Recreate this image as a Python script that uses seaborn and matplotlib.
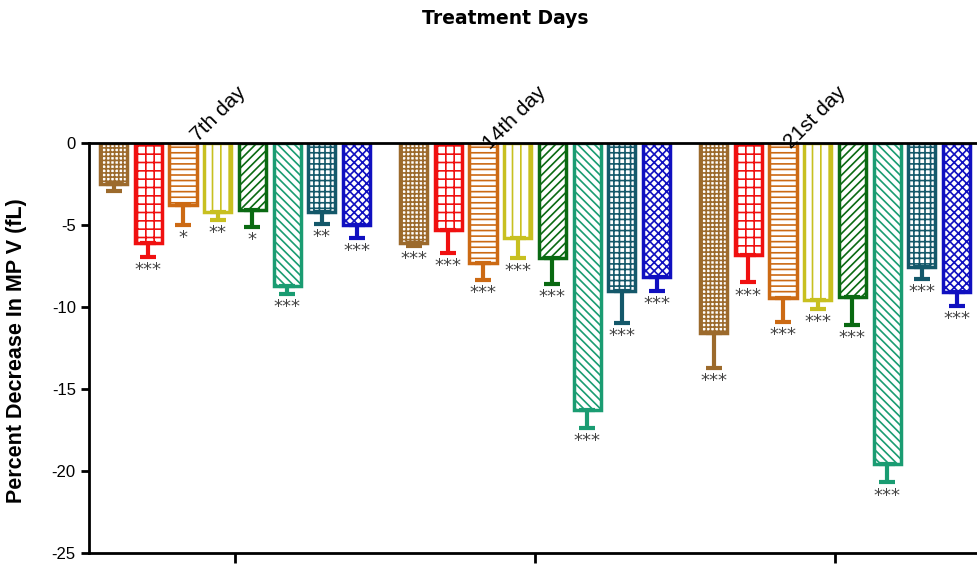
import numpy as np
import pandas as pd
import seaborn as sns
import matplotlib.pyplot as plt

days = ["7th day", "14th day", "21st day"]
groups = ["G1", "G2", "G3", "G4", "G5", "G6", "G7", "G8"]

# mean percent decrease per group, one list per day
mean_7 = [-2.5, -6.1, -3.8, -4.2, -4.1, -8.7, -4.2, -5.0]
mean_14 = [-6.1, -5.3, -7.3, -5.8, -7.0, -16.3, -9.0, -8.2]
mean_21 = [-11.6, -6.85, -9.45, -9.6, -9.4, -19.6, -7.55, -9.1]

# error (drawn downward only)
err_7 = [0.45, 0.85, 1.2, 0.5, 1.0, 0.5, 0.75, 0.8]
err_14 = [0.15, 1.4, 1.05, 1.2, 1.6, 1.1, 2.0, 0.8]
err_21 = [2.1, 1.65, 1.45, 0.5, 1.7, 1.1, 0.75, 0.85]

stars_7 = ["", "***", "*", "**", "*", "***", "**", "***"]
stars_14 = ["***"] * 8
stars_21 = ["***"] * 8

colors = ["#9C6A2C", "#F01010", "#CC6A14", "#C8C020", "#0A6A12", "#1A9C72", "#14586A", "#1010C0"]
hatches = ["++++", "++", "---", "||", "////", "\\\\\\\\", "+++", "xxxx"]

means = [mean_7, mean_14, mean_21]
errs = [err_7, err_14, err_21]
stars = [stars_7, stars_14, stars_21]

df = pd.DataFrame({
    "day": np.repeat(days, len(groups)),
    "group": groups * len(days),
    "value": mean_7 + mean_14 + mean_21,
})

sns.set_style("ticks")
plt.rcParams["font.family"] = ["Liberation Sans", "DejaVu Sans"]
plt.rcParams["hatch.linewidth"] = 1.2
plt.rcParams["axes.unicode_minus"] = False
for key in ["text.color", "axes.labelcolor", "xtick.color", "ytick.color"]:
    plt.rcParams[key] = "black"

fig = plt.figure(figsize=(9.77, 5.65), dpi=100)
ax = fig.add_axes([89 / 977, 12 / 565, 888 / 977, 410 / 565])

sns.barplot(data=df, x="day", y="value", hue="group", order=days, hue_order=groups,
            palette=colors, width=0.926, gap=0.22, errorbar=None, legend=False, ax=ax)

bar_conts = list(ax.containers)
for i, cont in enumerate(bar_conts):
    for j, bar in enumerate(cont.patches):
        bar.set_facecolor("white")
        bar.set_edgecolor(colors[i])
        bar.set_hatch(hatches[i])
        bar.set_linewidth(2.5)
        x = bar.get_x() + bar.get_width() / 2
        m = means[j][i]
        e = errs[j][i]
        ax.errorbar(x, m, yerr=[[e], [0]], fmt="none", ecolor=colors[i],
                    elinewidth=3, capsize=6, capthick=3)
        if stars[j][i]:
            ax.text(x, m - e - 0.25, stars[j][i], ha="center", va="top",
                    fontsize=13, color="#444444", family="DejaVu Sans")

# category labels above the zero line
for k, d in enumerate(days):
    ax.text(k + 0.04, 3.0, d, rotation=45, rotation_mode="anchor", ha="right",
            va="baseline", fontsize=15, clip_on=False)

ax.set_xlim(-0.487, 2.473)
ax.set_ylim(-25, 0)
ax.set_yticks([0, -5, -10, -15, -20, -25])
ax.set_xticks([0, 1, 2])
ax.set_xticklabels([])
ax.set_xlabel("")
ax.set_ylabel("Percent Decrease In MP V (fL)", fontsize=15.5, fontweight="bold")
ax.yaxis.set_label_coords(-0.07, 0.493)
ax.tick_params(axis="y", labelsize=12, width=2, length=6)
ax.tick_params(axis="x", width=2, length=7)

sns.despine(ax=ax, right=True, top=False)
for s in ["left", "bottom", "top"]:
    ax.spines[s].set_linewidth(2)
    ax.spines[s].set_color("black")

fig.text(505 / 977, 1 - 18 / 565, "Treatment Days", ha="center", va="center",
         fontsize=13.5, fontweight="bold", family="DejaVu Sans")

fig.savefig("out.png", dpi=100)
